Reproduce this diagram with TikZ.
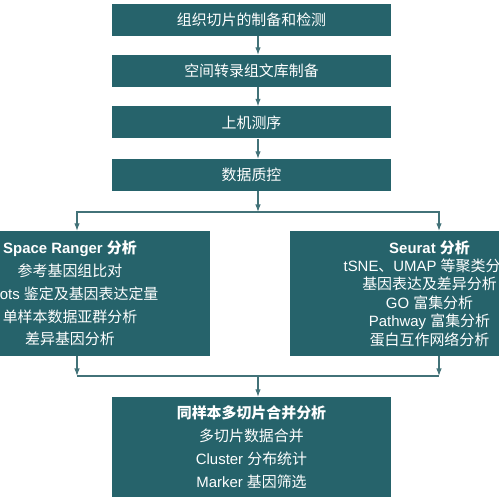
\documentclass[tikz,border=0pt]{standalone}
\usepackage{fontspec}
\setmainfont{Liberation Sans}
\newfontfamily\cjk{Noto Sans CJK SC}
\newcommand{\zh}[1]{{\cjk #1}}
\usetikzlibrary{arrows.meta}
\definecolor{boxteal}{RGB}{38,99,107}
\definecolor{linkteal}{RGB}{66,114,120}
\begin{document}
\begin{tikzpicture}
		\tikzstyle{every node}=[font=\fontsize{17pt}{26pt}\selectfont, text=white]
		\tikzstyle{stepbox}=[fill=boxteal, inner sep=0pt, minimum width=11.16cm, minimum height=1.28cm, align=center]
		\tikzstyle{bigbox}=[fill=boxteal, inner sep=0pt, minimum width=11.2cm, minimum height=5cm, align=center]
		\tikzstyle{link}=[draw=linkteal, line width=1.2pt]
		\tikzstyle{arr}=[link, -{Latex[length=0.3cm,width=0.22cm]}]
		
		\clip (0,0) rectangle (19.96,19.96);
		
		% main steps
		\node[stepbox] (prep) at (10.06,19.16) {\zh{组织切片的制备和检测}};
		\node[stepbox] (lib) at (10.06,17.12) {\zh{空间转录组文库制备}};
		\node[stepbox] (seq) at (10.06,15.06) {\zh{上机测序}};
		\node[stepbox] (qc) at (10.06,12.96) {\zh{数据质控}};
		
		% two branches
		\node[bigbox] (ranger) at (2.8,8.22) {\textbf{Space Ranger \zh{分析}}\\\zh{参考基因组比对}\\Spots \zh{鉴定及基因表达定量}\\\zh{单样本数据亚群分析}\\\zh{差异基因分析}};
		\node[bigbox, font=\fontsize{17pt}{21pt}\selectfont] (seurat) at (17.18,8.22) {\textbf{Seurat \zh{分析}}\\tSNE\zh{、}UMAP \zh{等聚类分析}\\\zh{基因表达及差异分析}\\GO \zh{富集分析}\\Pathway \zh{富集分析}\\\zh{蛋白互作网络分析}};
		
		\node[stepbox, minimum height=4cm] (merge) at (10.06,2.08) {\textbf{\zh{同样本多切片合并分析}}\\\zh{多切片数据合并}\\Cluster \zh{分布统计}\\Marker \zh{基因筛选}};
		
		\coordinate (split) at (10.32,11.48);
		\coordinate (splitL) at (3.08,11.48);
		\coordinate (splitR) at (17.56,11.48);
		\coordinate (join) at (10.32,4.92);
		\coordinate (joinL) at (3.08,4.92);
		\coordinate (joinR) at (17.56,4.92);
		
		\draw[arr] (prep.south -| split) -- (lib.north -| split);
		\draw[arr] (lib.south -| split) -- (seq.north -| split);
		\draw[arr] (seq.south -| split) -- (qc.north -| split);
		\draw[arr] (qc.south -| split) -- (split);
		
		\draw[arr] (split) -| (ranger.north -| splitL);
		\draw[arr] (split) -| (seurat.north -| splitR);
		
		\draw[arr] (ranger.south -| joinL) -- (joinL);
		\draw[arr] (seurat.south -| joinR) -- (joinR);
		\draw[link] (joinL) -- (joinR);
		\draw[arr] (join) -- (merge.north -| join);
		
	\end{tikzpicture}
\end{document}
